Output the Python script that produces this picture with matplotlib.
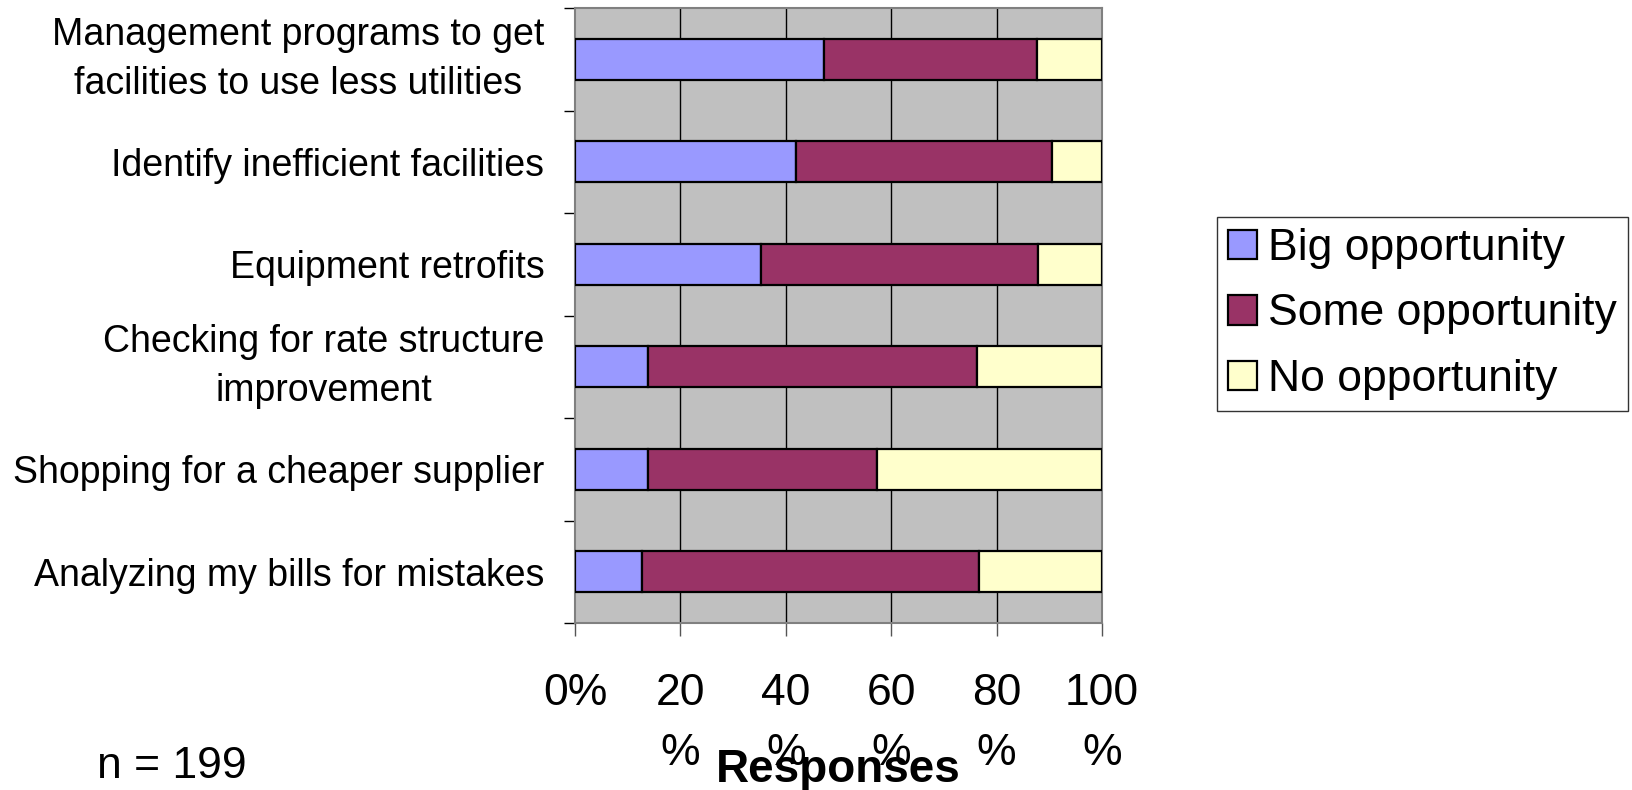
import numpy as np
import matplotlib
matplotlib.use("Agg")
import matplotlib.pyplot as plt
from matplotlib.ticker import FixedLocator

plt.rcParams['font.family'] = ['Liberation Sans', 'DejaVu Sans']

# данные (проценты ответов)
categories = ["Management programs to get\nfacilities to use less utilities",
              "Identify inefficient facilities",
              "Equipment retrofits",
              "Checking for rate structure\nimprovement",
              "Shopping for a cheaper supplier",
              "Analyzing my bills for mistakes"]
big = [47.2, 41.9, 35.2, 13.9, 13.9, 12.7]
some = [40.4, 48.6, 52.7, 62.4, 43.4, 64.0]
none_ = [12.4, 9.5, 12.1, 23.7, 42.7, 23.3]
series_names = ["Big opportunity", "Some opportunity", "No opportunity"]
colors = ["#9999FF", "#993366", "#FFFFCC"]
xticks = [0, 20, 40, 60, 80, 100]
xtick_labels = ["0%", "20\n%", "40\n%", "60\n%", "80\n%", "100\n%"]

fig = plt.figure(figsize=(16.33, 7.9), dpi=100)
ax = fig.add_axes([575 / 1633, 1 - 623 / 790, 527 / 1633, 615 / 790])
ax.set_facecolor("#C0C0C0")

n = len(categories)
y = np.arange(n)[::-1]  # первая категория сверху
left = np.zeros(n)
for vals, name, c in zip([big, some, none_], series_names, colors):
    ax.barh(y, vals, left=left, height=0.4, color=c, edgecolor="black",
            linewidth=1.6, label=name, zorder=3)
    left += np.array(vals)

ax.set_xlim(0, 100)
ax.set_ylim(-0.5, n - 0.5)

# вертикальная сетка
for xv in xticks[1:-1]:
    ax.axvline(xv, color="black", linewidth=1, zorder=1)

for s in ax.spines.values():
    s.set_color("#808080")
    s.set_linewidth(1.5)

# ось Y: деления на границах категорий, подписи по центру
ax.yaxis.set_major_locator(FixedLocator(np.arange(-0.5, n, 1.0)))
ax.yaxis.set_minor_locator(FixedLocator(y))
ax.set_yticklabels([], minor=False)
ax.set_yticks(y, labels=categories, minor=True)
ax.tick_params(axis="y", which="major", length=8, width=1, color="black")
ax.tick_params(axis="y", which="minor", length=0, pad=22, labelsize=27)
for lab in ax.get_yticklabels(minor=True):
    if "\n" in lab.get_text():
        lab.set_multialignment("center")
        lab.set_linespacing(1.45)
        lab.set_verticalalignment("center")

# ось X
ax.set_xticks(xticks, labels=xtick_labels)
ax.tick_params(axis="x", length=9, width=1, color="#555555", pad=27, labelsize=32)
for lab in ax.get_xticklabels():
    lab.set_linespacing(1.58)

fig.text(838 / 1633, 1 - 770 / 790, "Responses", ha="center", va="center",
         fontsize=33, fontweight="bold")
fig.text(97 / 1633, 1 - 766 / 790, "n = 199", ha="left", va="center", fontsize=32)

leg = fig.legend(loc="center left", bbox_to_anchor=(1217 / 1633, 1 - 314 / 790),
                 fontsize=32, frameon=True, fancybox=False, edgecolor="black",
                 handlelength=0.65, handleheight=0.65, handletextpad=0.25,
                 labelspacing=0.55, borderpad=0.25, borderaxespad=0)
leg.get_frame().set_linewidth(1)

fig.savefig("out.png", dpi=100)
